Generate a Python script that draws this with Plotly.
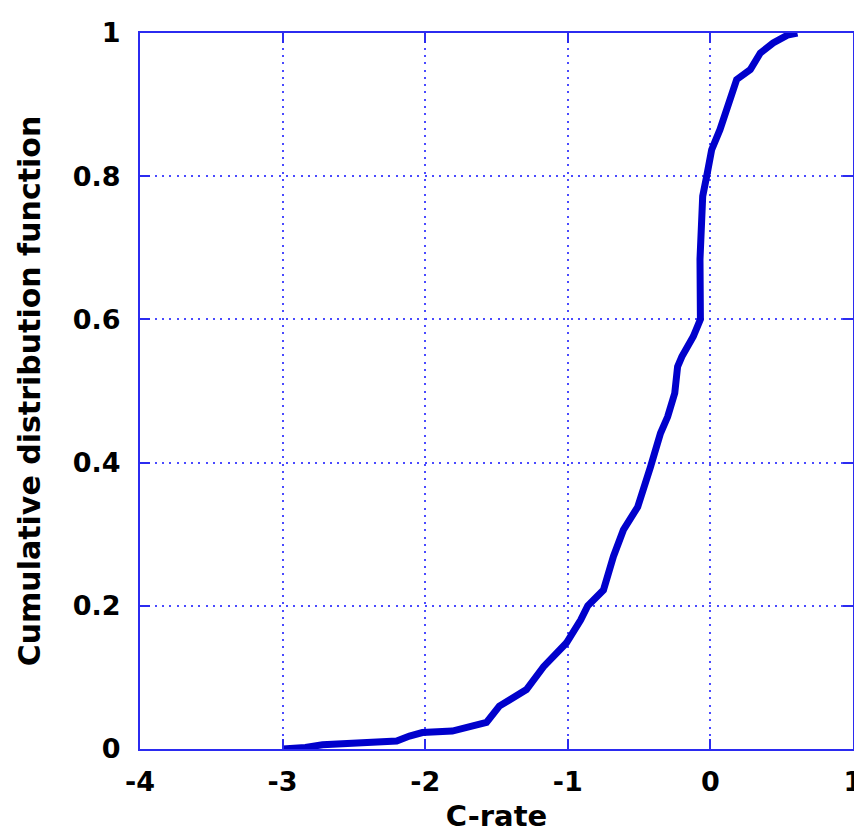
import plotly.graph_objects as go

# CDF curve (C-rate, cumulative probability)
c_rate = [-3.00, -2.84, -2.72, -2.41, -2.20, -2.11, -2.02, -1.81, -1.64, -1.57,
          -1.48, -1.38, -1.29, -1.17, -1.01, -0.91, -0.86, -0.75, -0.72, -0.68,
          -0.61, -0.51, -0.42, -0.35, -0.30, -0.25, -0.23, -0.20, -0.12, -0.07,
          -0.073, -0.054, -0.026, 0.009, 0.067, 0.114, 0.149, 0.184, 0.28, 0.35,
          0.44, 0.54, 0.61]
cdf = [0.000, 0.002, 0.006, 0.009, 0.011, 0.018, 0.023, 0.025, 0.032, 0.037,
       0.060, 0.072, 0.083, 0.115, 0.148, 0.180, 0.200, 0.222, 0.246, 0.269,
       0.306, 0.338, 0.394, 0.441, 0.464, 0.497, 0.534, 0.548, 0.576, 0.600,
       0.684, 0.772, 0.800, 0.837, 0.865, 0.893, 0.917, 0.935, 0.949, 0.972,
       0.986, 0.997, 1.000]

x_ticks = [-4, -3, -2, -1, 0, 1]
y_ticks = [0, 0.2, 0.4, 0.6, 0.8, 1]
y_tick_labels = ["0", "0.2", "0.4", "0.6", "0.8", "1"]

FONT = "DejaVu Sans"
AXIS_COLOR = "#2b2bf0"
GRID_COLOR = "#4a4aff"

fig = go.Figure()
fig.add_trace(go.Scatter(
    x=c_rate, y=cdf, mode="lines",
    line=dict(color="#0000cc", width=7),
    showlegend=False, hoverinfo="skip",
))

axis_common = dict(
    showline=True, linecolor=AXIS_COLOR, linewidth=2, mirror="ticks",
    ticks="inside", ticklen=10, tickwidth=2, tickcolor=AXIS_COLOR,
    showgrid=True, gridcolor=GRID_COLOR, gridwidth=1.5, griddash="2px,5.3px",
    zeroline=False, ticklabeloverflow="allow",
    tickfont=dict(family=FONT, size=27, color="black", weight="bold"),
)

fig.update_xaxes(
    range=[-4, 1], tickmode="array", tickvals=x_ticks,
    ticktext=[str(v) for v in x_ticks], ticklabelstandoff=8,
    title=dict(text="C-rate", font=dict(family=FONT, size=29, color="black", weight="bold"),
               standoff=9),
    **axis_common,
)
fig.update_yaxes(
    range=[0, 1], tickmode="array", tickvals=y_ticks, ticktext=y_tick_labels,
    ticklabelstandoff=12,
    title=dict(text="Cumulative distribution function",
               font=dict(family=FONT, size=30, color="black", weight="bold"),
               standoff=23),
    **axis_common,
)

fig.update_layout(
    width=854, height=832,
    margin=dict(l=132, r=9, t=25, b=91, autoexpand=False),
    plot_bgcolor="white", paper_bgcolor="white",
)

fig.write_html("out.html")
